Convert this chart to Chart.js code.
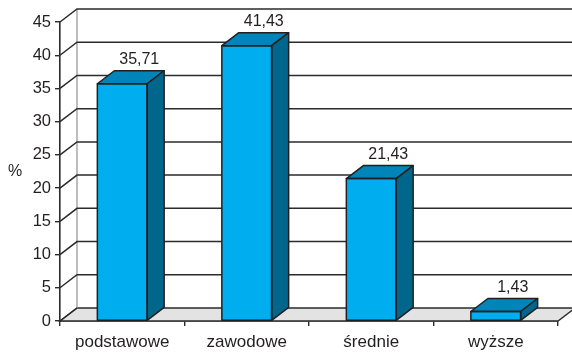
<!DOCTYPE html>
<html>
<head>
<meta charset="utf-8">
<script src="https://cdn.jsdelivr.net/npm/chart.js@4/dist/chart.umd.min.js"></script>
<style>
  html, body { margin: 0; padding: 0; background: #fff; }
  canvas { display: block; }
</style>
</head>
<body>
<canvas id="chart" width="572" height="353"></canvas>
<script>
var categories = ['podstawowe', 'zawodowe', 'średnie', 'wyższe'];
var percents = [35.71, 41.43, 21.43, 1.43];
var yTicks = [0, 5, 10, 15, 20, 25, 30, 35, 40, 45];

var front = 'rgb(0, 174, 239)';
var topFace = 'rgb(0, 133, 186)';
var sideFace = 'rgb(0, 102, 140)';
var outline = '#231f20';
var grid = '#2b2b2b';
var textColor = '#231f20';
var floorFill = '#e3e3e3';
var font = '"Liberation Sans", Arial, Helvetica, sans-serif';

// depth of the fake 3D
var dx = 17, dy = 13;

var fake3d = {
    id: 'fake3d',
    beforeDraw: function (chart) {
        var ctx = chart.ctx;
        ctx.save();
        ctx.fillStyle = '#fff';
        ctx.fillRect(0, 0, chart.width, chart.height);
        ctx.restore();
    },
    beforeDatasetsDraw: function (chart) {
        var ctx = chart.ctx, a = chart.chartArea, y = chart.scales.y;
        ctx.save();
        // floor
        var y0 = y.getPixelForValue(0);
        ctx.beginPath();
        ctx.moveTo(a.left, y0);
        ctx.lineTo(a.right, y0);
        ctx.lineTo(a.right + dx, y0 - dy);
        ctx.lineTo(a.left + dx, y0 - dy);
        ctx.closePath();
        ctx.fillStyle = floorFill;
        ctx.fill();
        ctx.lineWidth = 1.4;
        ctx.strokeStyle = grid;
        ctx.stroke();
        // back wall edge
        ctx.beginPath();
        ctx.moveTo(a.left + dx, y.getPixelForValue(45) - dy);
        ctx.lineTo(a.left + dx, y0 - dy);
        ctx.strokeStyle = '#999';
        ctx.lineWidth = 1.3;
        ctx.stroke();
        // grid lines on left wall and back wall
        ctx.strokeStyle = grid;
        ctx.lineWidth = 1.5;
        yTicks.forEach(function (v) {
            var py = y.getPixelForValue(v);
            ctx.beginPath();
            ctx.moveTo(a.left, py);
            ctx.lineTo(a.left + dx, py - dy);
            if (v > 0) ctx.lineTo(chart.width, py - dy);
            ctx.stroke();
        });
        // % label
        ctx.fillStyle = textColor;
        ctx.font = '16px ' + font;
        ctx.textAlign = 'center';
        ctx.textBaseline = 'middle';
        ctx.fillText('%', 15, 172);
        ctx.restore();
    },
    afterDatasetsDraw: function (chart) {
        var ctx = chart.ctx;
        var meta = chart.getDatasetMeta(0);
        ctx.save();
        ctx.lineWidth = 1.5;
        ctx.strokeStyle = outline;
        ctx.lineJoin = 'round';
        meta.data.forEach(function (bar, i) {
            var l = bar.x - bar.width / 2, r = bar.x + bar.width / 2;
            var t = bar.y, b = bar.base;
            // top face
            ctx.beginPath();
            ctx.moveTo(l, t);
            ctx.lineTo(l + dx, t - dy);
            ctx.lineTo(r + dx, t - dy);
            ctx.lineTo(r, t);
            ctx.closePath();
            ctx.fillStyle = topFace;
            ctx.fill();
            ctx.stroke();
            // side face
            ctx.beginPath();
            ctx.moveTo(r, t);
            ctx.lineTo(r + dx, t - dy);
            ctx.lineTo(r + dx, b - dy);
            ctx.lineTo(r, b);
            ctx.closePath();
            ctx.fillStyle = sideFace;
            ctx.fill();
            ctx.stroke();
            // front outline
            ctx.strokeRect(l, t, r - l, b - t);

            // value label on a white patch
            var txt = percents[i].toFixed(2).replace('.', ',');
            var cx = bar.x + dx, cy = t - dy - 11;
            ctx.font = '16px ' + font;
            var w = ctx.measureText(txt).width;
            ctx.fillStyle = '#fff';
            ctx.fillRect(cx - w / 2 - 9, cy - 11, w + 18, 19);
            ctx.fillStyle = textColor;
            ctx.textAlign = 'center';
            ctx.textBaseline = 'middle';
            ctx.fillText(txt, cx, cy);
        });
        ctx.restore();
    }
};

new Chart(document.getElementById('chart'), {
    type: 'bar',
    data: {
        labels: categories,
        datasets: [{
            data: percents,
            backgroundColor: front,
            borderColor: outline,
            borderWidth: 0,
            categoryPercentage: 1,
            barPercentage: 0.4
        }]
    },
    options: {
        responsive: false,
        animation: false,
        devicePixelRatio: 1,
        layout: { padding: { left: 0, top: 22, right: 14, bottom: 0 } },
        plugins: {
            legend: { display: false },
            tooltip: { enabled: false }
        },
        scales: {
            x: {
                offset: true,
                grid: { drawOnChartArea: false, offset: true, tickLength: 5, color: grid, lineWidth: 1.4 },
                border: { display: true, color: grid, width: 1.4 },
                ticks: { color: textColor, font: { size: 17, family: font }, padding: 6 },
                afterFit: function (s) { s.height = 32; }
            },
            y: {
                min: 0,
                max: 45,
                grid: { drawOnChartArea: false, tickLength: 5, color: grid, lineWidth: 1.4 },
                border: { display: true, color: grid, width: 1.6 },
                ticks: { stepSize: 5, color: textColor, font: { size: 16.5, family: font }, padding: 4 },
                afterFit: function (s) { s.width = 60; }
            }
        }
    },
    plugins: [fake3d]
});
</script>
</body>
</html>
